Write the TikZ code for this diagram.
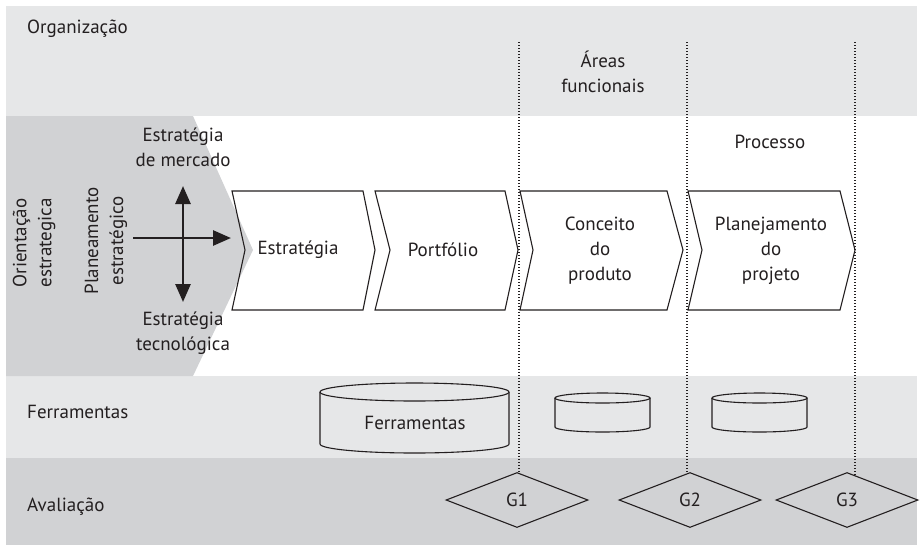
\documentclass[tikz,border=0pt]{standalone}
\usepackage{fontspec}
\setmainfont{PT Sans}
\usetikzlibrary{arrows.meta,shapes.geometric}
\definecolor{bandlight}{HTML}{E6E7E8}
\definecolor{banddark}{HTML}{D1D2D4}
\definecolor{ink}{HTML}{231F20}
\begin{document}
\begin{tikzpicture}[x=1pt,y=-1pt,
  txt/.style={font=\fontsize{19}{25}\selectfont, text=ink, align=center, inner sep=0pt},
  lbl/.style={txt, anchor=west},
  chev/.style={draw=ink, line width=1.1pt, line join=miter},
  cyl/.style={draw=ink, line width=1.1pt, fill=bandlight},
  gate/.style={txt, draw=ink, line width=1.1pt, diamond, minimum width=142pt, minimum height=55pt, inner sep=0pt},
  vline/.style={draw=ink, line width=1.1pt, dash pattern=on 1.2pt off 1.8pt},
  bigarrow/.style={draw=ink, line width=2.7pt, {Triangle[length=18pt,width=15pt]}-{Triangle[length=18pt,width=15pt]}},
  onearrow/.style={draw=ink, line width=2.7pt, -{Triangle[length=18pt,width=15pt]}}]
\useasboundingbox (0,0) rectangle (920,550);
% bands
\fill[bandlight] (6,6) rectangle (917,116);
\fill[bandlight] (6,376) rectangle (917,458);
\fill[banddark] (6,458) rectangle (917,545);
\fill[banddark] (6,116) -- (193,116) -- (253,250) -- (193,376) -- (6,376) -- cycle;
% labels
\node[lbl] (org) at (27,29) {Organização};
\node[txt] (areas) at (603,72) {Áreas\\funcionais};
\node[txt] (proc) at (770,142) {Processo};
\node[lbl] (ferl) at (27,412) {Ferramentas};
\node[lbl] (aval) at (27,507) {Avaliação};
\node[txt, rotate=90] (orient) at (34,243) {Orientação\\estrategica};
\node[txt, rotate=90] (plan) at (106,241) {Planeamento\\estratégico};
\node[txt] (merc) at (183,147) {Estratégia\\de mercado};
\node[txt] (tecn) at (183,333) {Estratégia\\tecnológica};
% arrows
\coordinate (vt) at (183,186);
\coordinate (vb) at (183,302);
\coordinate (hl) at (133,238);
\coordinate (hr) at (231,238);
\draw[bigarrow] (vt) -- (vb);
\draw[onearrow] (hl) -- (hr);
% chevrons
\draw[chev] (232,191) -- (363,191) -- (375,250) -- (363,310) -- (232,310) -- (245,250) -- cycle;
\draw[chev, fill=white] (375,191) -- (505,191) -- (518,250) -- (505,310) -- (375,310) -- (390,250) -- cycle;
\draw[chev, fill=white] (520,191) -- (667,191) -- (683,250) -- (667,310) -- (520,310) -- (533,250) -- cycle;
\draw[chev, fill=white] (688,191) -- (840,191) -- (855,250) -- (840,310) -- (688,310) -- (702,250) -- cycle;
\node[txt] (s1) at (298,250) {Estratégia};
\node[txt] (s2) at (443,250) {Portfólio};
\node[txt] (s3) at (600,251) {Conceito\\do\\produto};
\node[txt] (s4) at (771,251) {Planejamento\\do\\projeto};
% cylinders
\draw[cyl] (320,392) -- (320,444) arc[start angle=180, end angle=0, x radius=94.5, y radius=9] -- (509,392);
\draw[cyl] (414.5,392) ellipse[x radius=94.5, y radius=9];
\node[txt] (tools) at (415,423) {Ferramentas};
\draw[cyl] (555,398) -- (555,427) arc[start angle=180, end angle=0, x radius=47.5, y radius=5] -- (650,398);
\draw[cyl] (602.5,398) ellipse[x radius=47.5, y radius=5];
\draw[cyl] (712,398) -- (712,427) arc[start angle=180, end angle=0, x radius=47.5, y radius=5] -- (807,398);
\draw[cyl] (759.5,398) ellipse[x radius=47.5, y radius=5];
% gates
\node[gate] (g1) at (517,500) {G1};
\node[gate] (g2) at (690,500) {G2};
\node[gate] (g3) at (847,500) {G3};
% dotted lines
\coordinate (d1) at (519,42);
\coordinate (d2) at (687,42);
\coordinate (d3) at (855,42);
\draw[vline] (d1) -- (d1 |- g1.north);
\draw[vline] (d2) -- (d2 |- g2.north);
\draw[vline] (d3) -- ([yshift=-3pt]d3 |- g3.north);
\end{tikzpicture}
\end{document}
